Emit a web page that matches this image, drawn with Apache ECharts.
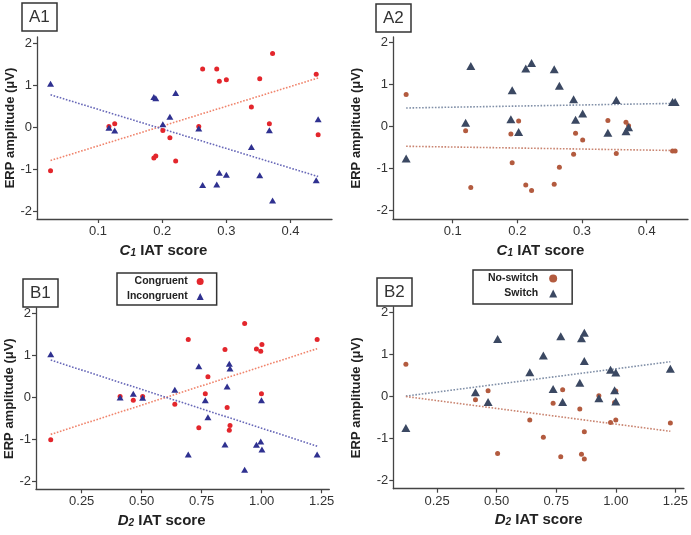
<!DOCTYPE html>
<html>
<head>
<meta charset="utf-8">
<script src="https://cdn.jsdelivr.net/npm/echarts@6/dist/echarts.min.js"></script>
<style>html,body{margin:0;padding:0;background:#fff;}#c{width:691px;height:535px;}</style>
</head>
<body>
<div id="c"></div>
<script>
// ---- Data ----
var a1X = [0.026,0.117,0.126,0.187,0.190,0.201,0.212,0.221,0.257,0.263,0.285,0.289,0.300,0.339,0.352,0.367,0.372,0.440,0.443];
var a1Congruent = [-1.03,0.02,0.08,-0.73,-0.68,-0.08,-0.25,-0.80,0.02,1.38,1.38,1.09,1.13,0.48,1.15,0.08,1.75,1.26,-0.18];
var a1Incongruent = [1.03,-0.01,-0.08,0.72,0.69,0.07,0.25,0.81,-0.03,-1.37,-1.36,-1.08,-1.13,-0.47,-1.14,-0.07,-1.74,-1.26,0.19];
var a1CongruentFit = [[0.026,-0.79],[0.443,1.17]];
var a1IncongruentFit = [[0.026,0.77],[0.443,-1.17]];

var a2X = [0.028,0.120,0.128,0.190,0.192,0.202,0.213,0.222,0.257,0.265,0.287,0.290,0.301,0.340,0.353,0.368,0.372,0.440,0.444];
var a2NoSwitch = [0.76,-0.10,-1.45,-0.18,-0.86,0.13,-1.39,-1.52,-1.37,-0.97,-0.66,-0.16,-0.32,0.14,-0.64,0.10,0.02,-0.58,-0.58];
var a2Switch = [-0.76,0.09,1.44,0.17,0.86,-0.13,1.38,1.51,1.36,0.97,0.65,0.16,0.31,-0.15,0.63,-0.11,-0.02,0.58,0.58];
var a2NoSwitchFit = [[0.028,-0.47],[0.444,-0.57]];
var a2SwitchFit = [[0.028,0.44],[0.444,0.55]];

var b1X = [0.121,0.410,0.465,0.504,0.638,0.694,0.738,0.765,0.776,0.847,0.856,0.868,0.865,0.929,0.978,0.996,1.001,0.999,1.231];
var b1Congruent = [-1.02,0.01,-0.08,0.01,-0.17,1.37,-0.73,0.08,0.48,1.13,-0.25,-0.68,-0.79,1.75,1.14,1.09,1.25,0.08,1.37];
var b1Incongruent = [1.02,-0.01,0.08,-0.02,0.17,-1.37,0.73,-0.08,-0.48,-1.13,0.25,0.68,0.79,-1.73,-1.14,-1.06,-1.25,-0.08,-1.37];
var b1CongruentFit = [[0.121,-0.89],[1.231,1.15]];
var b1IncongruentFit = [[0.121,0.88],[1.231,-1.17]];

var b2X = [0.119,0.411,0.464,0.504,0.639,0.696,0.737,0.769,0.777,0.849,0.856,0.868,0.868,0.929,0.978,0.995,1.000,1.000,1.229];
var b2NoSwitch = [0.77,-0.08,0.14,-1.36,-0.56,-0.97,-0.16,-1.44,0.16,-0.30,-1.38,-1.49,-0.84,0.02,-0.62,-0.14,0.13,-0.56,-0.63];
var b2Switch = [-0.75,0.10,-0.13,1.37,0.58,0.98,0.18,1.44,-0.13,0.33,1.39,1.52,0.85,-0.04,0.64,0.15,-0.12,0.57,0.66];
var b2NoSwitchFit = [[0.119,0.00],[1.229,-0.83]];
var b2SwitchFit = [[0.119,0.01],[1.229,0.83]];

var cTicks = [0.1,0.2,0.3,0.4];
var dTicks = [0.25,0.50,0.75,1.00,1.25];
var yTicks = [-2,-1,0,1,2];
var panelLabels = ['A1','A2','B1','B2'];

// ---- Styling ----
var FONT = 'Liberation Sans, Arial, sans-serif';
var RED = '#e3262c', NAVY = '#2f3190', BROWN = '#b35b3f', SLATE = '#3b4862';
var RED_FIT = '#f0846c', NAVY_FIT = '#6868b8', BROWN_FIT = '#c98470', SLATE_FIT = '#8190a8';

function zip(xs, ys) { return xs.map(function (x, i) { return [x, ys[i]]; }); }

var grids = [
  {left: 37, top: 37, width: 295, height: 182},
  {left: 393, top: 37, width: 295, height: 182.3},
  {left: 36, top: 308, width: 293.3, height: 181.3},
  {left: 393.3, top: 307, width: 294.7, height: 181.7}
];
var xRanges = [[0.0049,0.4646],[0.0077,0.4639],[0.0596,1.2817],[0.0662,1.286]];
var yRanges = [[-2.178,2.142],[-2.204,2.126],[-2.198,2.119],[-2.2,2.136]];
var yNameGaps = [20, 30, 20, 30];
var xNamePad = [[0,42,0,0],[0,0,0,0],[0,42,0,0],[0,0,0,0]];

function xName(letter) {
  return '{i|' + letter + '}{s|' + (letter === 'C' ? '1' : '2') + '}{n| IAT score}';
}
var richName = {
  i: {fontStyle: 'italic', fontWeight: 'bold', fontSize: 15, fontFamily: FONT, color: '#222'},
  s: {fontStyle: 'italic', fontWeight: 'bold', fontSize: 10, fontFamily: FONT, color: '#222', padding: [5,0,0,0]},
  n: {fontWeight: 'bold', fontSize: 15, fontFamily: FONT, color: '#222'}
};

var xAxes = [], yAxes = [];
for (var g = 0; g < 4; g++) {
  var isC = g < 2;
  var ticks = isC ? cTicks : dTicks;
  xAxes.push({
    type: 'value', gridIndex: g, min: xRanges[g][0], max: xRanges[g][1],
    name: xName(isC ? 'C' : 'D'), nameLocation: 'middle', nameGap: 24,
    nameTextStyle: {rich: richName, padding: xNamePad[g]},
    axisLine: {onZero: false, lineStyle: {color: '#444', width: 1.3}},
    axisTick: {show: true, length: 4, customValues: ticks, lineStyle: {color: '#444', width: 1.2}},
    axisLabel: {customValues: ticks, margin: 6, color: '#333', fontSize: 13, fontFamily: FONT,
      formatter: (function (c) { return function (v) { return c ? v.toFixed(1) : v.toFixed(2); }; })(isC)},
    splitLine: {show: false}
  });
  yAxes.push({
    type: 'value', gridIndex: g, min: yRanges[g][0], max: yRanges[g][1],
    name: 'ERP amplitude (\u03bcV)', nameLocation: 'middle', nameGap: yNameGaps[g],
    nameTextStyle: {fontWeight: 'bold', fontSize: 13, fontFamily: FONT, color: '#222'},
    axisLine: {onZero: false, lineStyle: {color: '#444', width: 1.3}},
    axisTick: {show: true, length: 4, customValues: yTicks, lineStyle: {color: '#444', width: 1.2}},
    axisLabel: {customValues: yTicks, margin: 5, color: '#333', fontSize: 13, fontFamily: FONT,
      formatter: function (v) { return String(Math.round(v)); }},
    splitLine: {show: false}
  });
}

function fit(name, g, data, color) {
  return {type: 'line', name: name, xAxisIndex: g, yAxisIndex: g, data: data, symbol: 'none',
    silent: true, z: 2, lineStyle: {color: color, width: 1.6, type: 'dotted'}};
}
function pts(name, g, data, color, symbol, size) {
  return {type: 'scatter', name: name, xAxisIndex: g, yAxisIndex: g, data: data, symbol: symbol,
    symbolSize: size, z: 3, itemStyle: {color: color, opacity: 1}};
}

var series = [
  fit('Congruent fit', 0, a1CongruentFit, RED_FIT),
  fit('Incongruent fit', 0, a1IncongruentFit, NAVY_FIT),
  pts('Congruent', 0, zip(a1X, a1Congruent), RED, 'circle', 5),
  pts('Incongruent', 0, zip(a1X, a1Incongruent), NAVY, 'triangle', [7,6]),

  fit('Switch fit', 1, a2SwitchFit, SLATE_FIT),
  fit('No-switch fit', 1, a2NoSwitchFit, BROWN_FIT),
  pts('No-switch', 1, zip(a2X, a2NoSwitch), BROWN, 'circle', 5),
  pts('Switch', 1, zip(a2X, a2Switch), SLATE, 'triangle', [9,8]),

  fit('Congruent fit', 2, b1CongruentFit, RED_FIT),
  fit('Incongruent fit', 2, b1IncongruentFit, NAVY_FIT),
  pts('Congruent', 2, zip(b1X, b1Congruent), RED, 'circle', 5),
  pts('Incongruent', 2, zip(b1X, b1Incongruent), NAVY, 'triangle', [7,6]),

  fit('Switch fit', 3, b2SwitchFit, SLATE_FIT),
  fit('No-switch fit', 3, b2NoSwitchFit, BROWN_FIT),
  pts('No-switch', 3, zip(b2X, b2NoSwitch), BROWN, 'circle', 5),
  pts('Switch', 3, zip(b2X, b2Switch), SLATE, 'triangle', [9,8])
];

var titlePos = [[22,3],[376,4],[23,279],[377,278]];
var titles = panelLabels.map(function (t, i) {
  return {text: t, left: titlePos[i][0], top: titlePos[i][1], padding: [6,7,5,7],
    borderColor: '#333', borderWidth: 1.5,
    textStyle: {fontSize: 17, fontWeight: 'normal', color: '#333', fontFamily: FONT}};
});

var legendText1 = {fontSize: 10.5, fontWeight: 'bold', color: '#222', fontFamily: FONT, padding: [0,4,0,0]};
var legendText2 = {fontSize: 10.5, fontWeight: 'bold', color: '#222', fontFamily: FONT, padding: [0,6,0,0]};
var option = {
  backgroundColor: '#fff',
  animation: false,
  title: titles,
  grid: grids,
  xAxis: xAxes,
  yAxis: yAxes,
  legend: [
    {data: [{name: 'Congruent', icon: 'circle'}, {name: 'Incongruent', icon: 'triangle'}],
     orient: 'vertical', align: 'right', left: 117, top: 273, padding: [3,13,3,10], itemGap: 4,
     itemWidth: 7, itemHeight: 7, borderColor: '#333', borderWidth: 1.5, textStyle: legendText1,
     selectedMode: false},
    {data: [{name: 'No-switch', icon: 'circle'}, {name: 'Switch', icon: 'triangle'}],
     orient: 'vertical', align: 'right', left: 473, top: 270, padding: [3,15,5,15], itemGap: 4,
     itemWidth: 8, itemHeight: 8, borderColor: '#333', borderWidth: 1.5, textStyle: legendText2,
     selectedMode: false}
  ],
  series: series
};
var chart = echarts.init(document.getElementById('c'), null, {renderer: 'canvas'});
chart.setOption(option);
</script>
</body>
</html>
